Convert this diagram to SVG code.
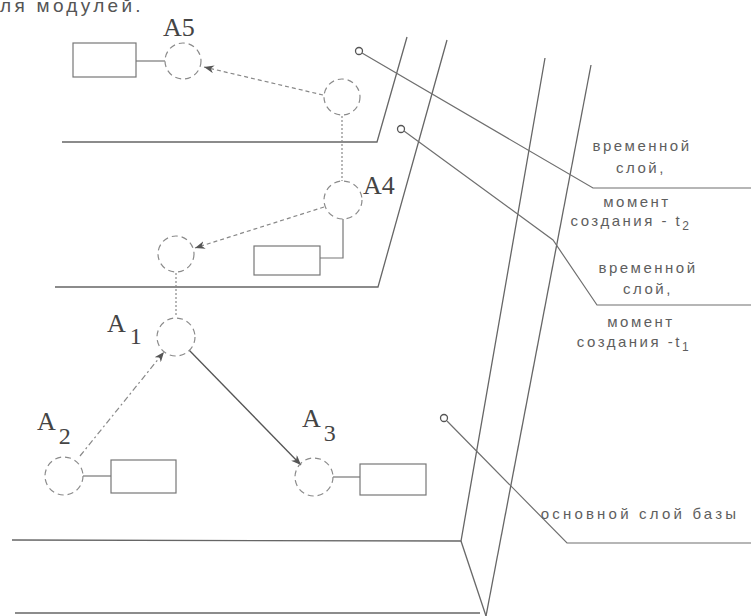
<svg xmlns="http://www.w3.org/2000/svg" width="751" height="616" viewBox="0 0 751 616">
<style>
.ln{fill:none;stroke:#6f6f6f;stroke-width:1.2}
.pl{fill:none;stroke:#666;stroke-width:1.3}
.nd{fill:none;stroke:#8a8a8a;stroke-width:1.2;stroke-dasharray:6 4}
.bx{fill:none;stroke:#777;stroke-width:1.2}
.dot{fill:none;stroke:#888;stroke-width:1.2;stroke-dasharray:2 2}
.dsh{fill:none;stroke:#888;stroke-width:1.2;stroke-dasharray:4 3}
.sm{fill:none;stroke:#555;stroke-width:1.3}
.lab{font-family:"Liberation Serif",serif;font-size:26px;fill:#444}
.sub{font-size:24px}
.tx{font-family:"Liberation Sans",Arial,sans-serif;font-size:15px;letter-spacing:2.5px;fill:#5e5e5e;text-anchor:middle}
</style>
<defs>
<marker id="ah" viewBox="0 0 10 8" refX="10" refY="4" markerWidth="10" markerHeight="8" markerUnits="userSpaceOnUse" orient="auto">
<path d="M0,0 L10,4 L0,8 L3,4 Z" fill="#555"/>
</marker>
</defs>
<rect width="751" height="616" fill="#fff"/>
<text x="0" y="12" style="font-family:'Liberation Sans',Arial,sans-serif;font-size:19px;letter-spacing:3.3px;fill:#555">ля модулей.</text>

<g id="layers">
<polyline class="pl" points="62,142 377,142 407,37"/>
<polyline class="pl" points="55,287 378,287 447,40"/>
<polyline class="pl" points="12,540 461,541 545,58"/>
<polyline class="pl" points="461,541 486,616"/>
<line class="pl" x1="591" y1="65" x2="486" y2="616"/>
<line class="pl" x1="15" y1="613" x2="480" y2="613"/>
</g>

<g id="connectors">
<line class="dsh" x1="323" y1="95" x2="204" y2="67" marker-end="url(#ah)"/>
<line class="dot" x1="342" y1="116" x2="342" y2="181"/>
<line class="dsh" x1="324" y1="207" x2="195" y2="248" marker-end="url(#ah)"/>
<line class="dot" x1="176" y1="273" x2="176" y2="317"/>
<line class="dsh" x1="80" y1="456" x2="164" y2="352" marker-end="url(#ah)" style="stroke-dasharray:6 3 2 3"/>
<line class="sm" x1="189" y1="350" x2="301" y2="465" marker-end="url(#ah)"/>
<line class="bx" x1="136" y1="61" x2="165" y2="61"/>
<polyline class="bx" points="343,219 343,258 320,258"/>
<line class="bx" x1="83" y1="476" x2="111" y2="476"/>
<line class="bx" x1="333" y1="477" x2="360" y2="477"/>
<circle class="sm" cx="359" cy="51" r="3.5"/>
<circle class="sm" cx="401" cy="129" r="3.5"/>
<circle class="sm" cx="444" cy="418" r="3.5"/>
<polyline class="ln" points="362,53 593,188 751,188"/>
<polyline class="ln" points="404,131 553,240 597,305 751,305"/>
<polyline class="ln" points="447,421 567,543 751,543"/>
</g>

<g id="A5">
<rect class="bx" x="73" y="43" width="63" height="34"/>
<circle class="nd" cx="183" cy="61" r="18"/>
<text class="lab" x="163" y="36">A5</text>
</g>
<g id="n_top">
<circle class="nd" cx="342" cy="97" r="18"/>
</g>
<g id="A4">
<circle class="nd" cx="343" cy="200" r="19"/>
<rect class="bx" x="254" y="246" width="66" height="29"/>
<text class="lab" x="363" y="194">A4</text>
</g>
<g id="n_mid">
<circle class="nd" cx="176" cy="254" r="18"/>
</g>
<g id="A1">
<circle class="nd" cx="176" cy="337" r="19"/>
<text class="lab" x="107" y="332">A<tspan class="sub" dx="4" dy="12">1</tspan></text>
</g>
<g id="A2">
<circle class="nd" cx="64" cy="476" r="19"/>
<rect class="bx" x="111" y="460" width="65" height="33"/>
<text class="lab" x="37" y="430">A<tspan class="sub" dx="3" dy="14">2</tspan></text>
</g>
<g id="A3">
<circle class="nd" cx="314" cy="477" r="19"/>
<rect class="bx" x="360" y="464" width="66" height="31"/>
<text class="lab" x="302" y="427">A<tspan class="sub" dx="3" dy="14">3</tspan></text>
</g>

<g id="labels">
<text class="tx" x="642" y="151">временной</text>
<text class="tx" x="641" y="173">слой,</text>
<text class="tx" x="637" y="207">момент</text>
<text class="tx" x="631" y="226">создания - t<tspan dy="4" font-size="12">2</tspan></text>
<text class="tx" x="648" y="273">временной</text>
<text class="tx" x="648" y="294">слой,</text>
<text class="tx" x="641" y="327">момент</text>
<text class="tx" x="634" y="347">создания -t<tspan dy="4" font-size="12">1</tspan></text>
<text class="tx" x="640" y="519" style="letter-spacing:3.2px">основной слой базы</text>
</g>
</svg>
